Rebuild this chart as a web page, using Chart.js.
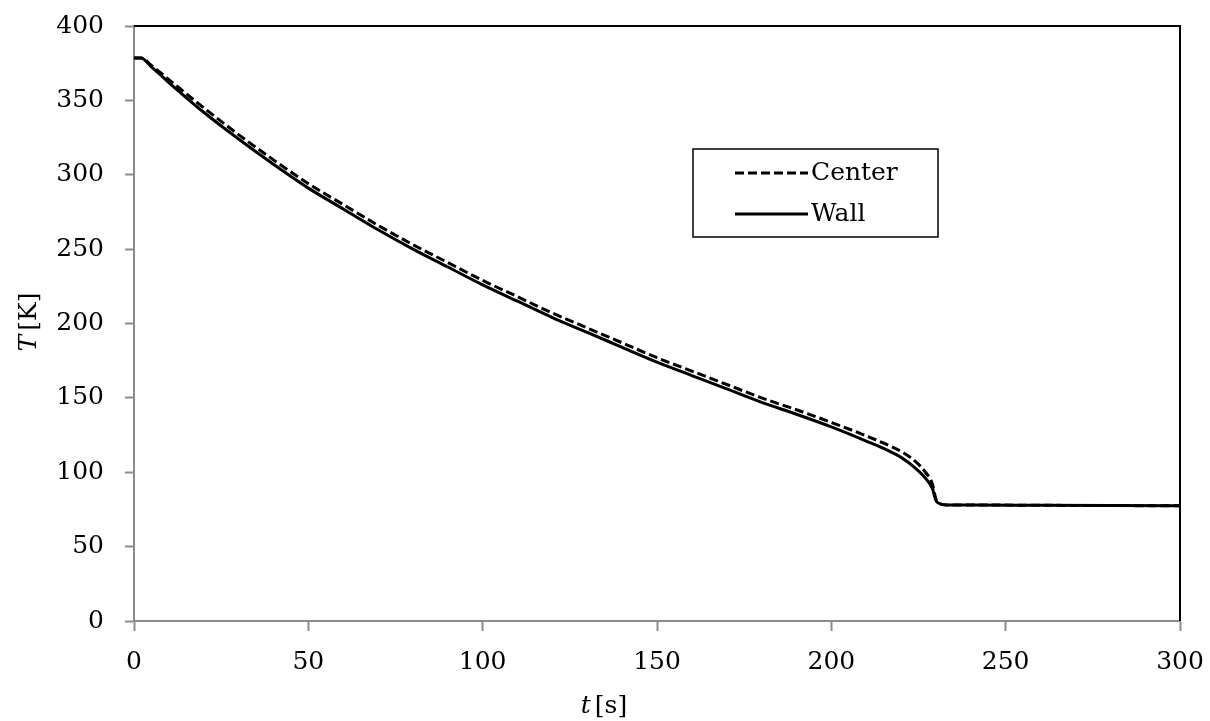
<!DOCTYPE html>
<html>
<head>
<meta charset="utf-8">
<script src="https://cdn.jsdelivr.net/npm/chart.js@4"></script>
<style>
  html, body { margin: 0; padding: 0; background: #fff; }
  #wrap { width: 1210px; height: 721px; }
</style>
</head>
<body>
<div id="wrap"><canvas id="chart" width="1210" height="721"></canvas></div>
<script>
// time [s]
const timeS = [0, 2, 5, 10, 20, 30, 40, 50, 60, 70, 80, 90, 100, 110, 120, 130, 140, 150,
               160, 170, 180, 190, 200, 210, 215, 220, 224, 227, 229, 230, 231, 233, 240, 260, 280, 300];
// temperatures [K]
const wallK = [378.5, 378.5, 372.5, 362, 342, 324, 307, 291, 277, 263, 250, 238, 226, 215, 204, 194, 184, 174,
               165, 156, 147, 139, 130.5, 121, 116, 110, 103, 96, 89, 81, 79, 78, 78, 77.8, 77.6, 77.5];
const centerK = [378.5, 378.5, 373.5, 364, 345, 327, 310, 294, 280, 266, 253, 241, 229, 218, 207, 197, 187, 177,
                 168, 159, 150, 142, 133.5, 124.5, 119.5, 114, 107.5, 100, 92, 82, 79, 78, 78, 77.8, 77.6, 77.5];
const xTicks = [0, 50, 100, 150, 200, 250, 300];
const yTicks = [0, 50, 100, 150, 200, 250, 300, 350, 400];

const FONT = '"DejaVu Serif", "Liberation Serif", serif';
const FONT_SIZE = 25;
const AXIS_GREY = '#8c8c8c';

function toPoints(ys) {
  return timeS.map((t, i) => ({ x: t, y: ys[i] }));
}

// frame, axis titles with italic symbols, and the boxed legend
const decorations = {
  id: 'decorations',
  afterDraw(chart) {
    const ctx = chart.ctx;
    const a = chart.chartArea;
    ctx.save();

    // black top / right frame
    ctx.strokeStyle = '#000';
    ctx.lineWidth = 2;
    ctx.beginPath();
    ctx.moveTo(a.left, a.top);
    ctx.lineTo(a.right, a.top);
    ctx.lineTo(a.right, a.bottom);
    ctx.stroke();

    // axis titles
    ctx.fillStyle = '#000';
    ctx.textBaseline = 'middle';
    const drawTitle = (sym, unit, cx, cy, rot) => {
      ctx.save();
      ctx.translate(cx, cy);
      ctx.rotate(rot);
      ctx.font = 'italic ' + FONT_SIZE + 'px ' + FONT;
      const w1 = ctx.measureText(sym).width + 4;
      ctx.font = FONT_SIZE + 'px ' + FONT;
      const w2 = ctx.measureText(unit).width;
      let x = -(w1 + w2) / 2;
      ctx.textAlign = 'left';
      ctx.font = 'italic ' + FONT_SIZE + 'px ' + FONT;
      ctx.fillText(sym, x, 0);
      ctx.font = FONT_SIZE + 'px ' + FONT;
      ctx.fillText(unit, x + w1, 0);
      ctx.restore();
    };
    drawTitle('t', '[s]', 604, 706, 0);
    drawTitle('T', '[K]', 29, 322, -Math.PI / 2);

    // legend box
    const lx = 693, ly = 149, lw = 245, lh = 88;
    ctx.strokeStyle = '#000';
    ctx.lineWidth = 1.5;
    ctx.strokeRect(lx, ly, lw, lh);
    const items = [
      { label: chart.data.datasets[0].label, dash: [9, 4], y: ly + 24 },
      { label: chart.data.datasets[1].label, dash: [], y: ly + 65 }
    ];
    items.forEach(it => {
      ctx.lineWidth = 3;
      ctx.setLineDash(it.dash);
      ctx.beginPath();
      ctx.moveTo(lx + 42, it.y);
      ctx.lineTo(lx + 115, it.y);
      ctx.stroke();
      ctx.setLineDash([]);
      ctx.font = FONT_SIZE + 'px ' + FONT;
      ctx.textAlign = 'left';
      ctx.fillText(it.label, lx + 118, it.y);
    });
    ctx.restore();
  }
};

new Chart(document.getElementById('chart'), {
  type: 'line',
  data: {
    datasets: [
      {
        label: 'Center',
        data: toPoints(centerK),
        borderColor: '#000',
        borderWidth: 3,
        borderDash: [9, 4],
        pointRadius: 0,
        cubicInterpolationMode: 'monotone'
      },
      {
        label: 'Wall',
        data: toPoints(wallK),
        borderColor: '#000',
        borderWidth: 3,
        pointRadius: 0,
        cubicInterpolationMode: 'monotone'
      }
    ]
  },
  options: {
    responsive: false,
    animation: false,
    layout: { padding: { left: 0, top: 26, right: 30, bottom: 0 } },
    plugins: { legend: { display: false }, tooltip: { enabled: false } },
    scales: {
      x: {
        type: 'linear',
        min: 0,
        max: 300,
        afterBuildTicks: s => { s.ticks = xTicks.map(v => ({ value: v })); },
        afterFit: s => { s.height = 100; s.paddingLeft = 0; s.paddingRight = 0; },
        grid: { drawOnChartArea: false, tickLength: 10, tickColor: AXIS_GREY, tickWidth: 2 },
        border: { color: AXIS_GREY, width: 2 },
        ticks: { color: '#000', padding: 16, maxRotation: 0, font: { family: FONT, size: FONT_SIZE } }
      },
      y: {
        min: 0,
        max: 400,
        afterBuildTicks: s => { s.ticks = yTicks.map(v => ({ value: v })); },
        afterFit: s => { s.width = 134; s.paddingTop = 0; s.paddingBottom = 0; },
        grid: { drawOnChartArea: false, tickLength: 9, tickColor: AXIS_GREY, tickWidth: 2 },
        border: { color: AXIS_GREY, width: 2 },
        ticks: { color: '#000', padding: 21, font: { family: FONT, size: FONT_SIZE } }
      }
    }
  },
  plugins: [decorations]
});
</script>
</body>
</html>
